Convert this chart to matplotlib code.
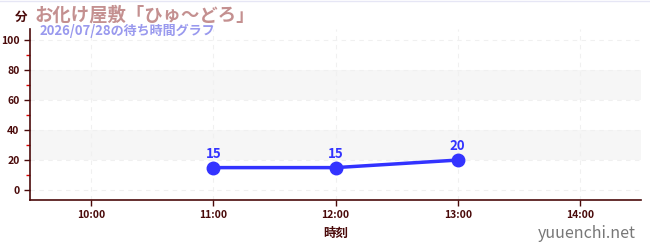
import numpy as np
from matplotlib import pyplot as plt
from matplotlib.ticker import MultipleLocator, FixedLocator

plt.rcParams['font.family'] = ['Noto Sans CJK JP', 'DejaVu Sans']

# data
hours = [11, 12, 13]
waits = [15, 15, 20]
tick_hours = [10, 11, 12, 13, 14]
tick_labels = ["10:00", "11:00", "12:00", "13:00", "14:00"]
title = "お化け屋敷「ひゅ〜どろ」"
subtitle = "2026/07/28の待ち時間グラフ"

maroon = "#4a0a0a"
blue = "#3333ff"

fig = plt.figure(figsize=(6.5, 2.5), dpi=100)
ax = fig.add_axes([30/650, 50/250, 611/650, 171/250])

# alternating bands
for lo, hi in [(20, 40), (60, 80)]:
    ax.axhspan(lo, hi, color="#f6f6f6", zorder=0, lw=0)

ax.plot(hours, waits, color=blue, lw=2.5, marker="o", ms=9, zorder=3)
for h, w in zip(hours, waits):
    ax.annotate(str(w), (h, w), xytext=(0, 5), textcoords="offset points",
                ha="center", va="bottom", color=blue, fontsize=9.5, fontweight="bold")

ax.set_xlim(9.5, 14.5)
ax.set_ylim(-6.5, 107)
ax.xaxis.set_major_locator(FixedLocator(tick_hours))
ax.set_xticklabels(tick_labels)
ax.yaxis.set_major_locator(MultipleLocator(20))
ax.yaxis.set_minor_locator(MultipleLocator(10))

ax.grid(True, which="major", color="#f0f0f0", ls=(0, (4, 4)), lw=0.8)
for s in ["top", "right"]:
    ax.spines[s].set_visible(False)
for s in ["left", "bottom"]:
    ax.spines[s].set_color(maroon)
    ax.spines[s].set_linewidth(1.2)

ax.tick_params(axis="both", which="major", colors=maroon, labelsize=7.5, length=4, width=1)
ax.tick_params(axis="y", which="minor", colors="#dd0000", length=3, width=1)
for lbl in ax.get_xticklabels() + ax.get_yticklabels():
    lbl.set_fontweight("bold")

ax.set_xlabel("時刻", color=maroon, fontsize=9, fontweight="bold", labelpad=5)

fig.text(21/650, 1 - 17/250, "分", color=maroon, fontsize=9, fontweight="bold", ha="center", va="center")
fig.text(35/650, 1 - 15/250, title, color="#c49090", fontsize=13.2, fontweight="bold", va="center")
fig.text(40/650, 1 - 31/250, subtitle, color="#9999ee", fontsize=9.4, fontweight="bold", va="center")
fig.text(636/650, 1 - 234/250, "yuuenchi.net", color="#777777", fontsize=11.5, ha="right", va="center")

fig.add_artist(plt.Line2D([0, 1], [0.998, 0.998], color="#e6e6f5", lw=1))

plt.savefig("out.png", dpi=100)
